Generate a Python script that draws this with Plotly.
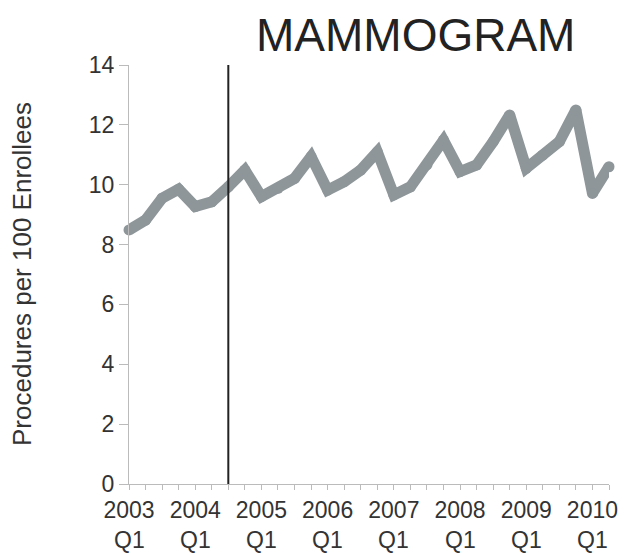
import plotly.graph_objects as go

quarters = [f"{y} Q{q}" for y in range(2003, 2011) for q in range(1, 5)][:30]
values = [8.49, 8.82, 9.55, 9.85, 9.27, 9.43, 9.93, 10.49, 9.60, 9.88,
          10.21, 10.94, 9.82, 10.10, 10.49, 11.10, 9.66, 9.93, 10.66, 11.49,
          10.44, 10.66, 11.44, 12.33, 10.55, 10.99, 11.44, 12.50, 9.71, 10.60]
year_labels = [q.split()[0] if q.endswith("Q1") else "" for q in quarters]
y_ticks = [0, 2, 4, 6, 8, 10, 12, 14]
marker_quarter = "2004 Q3"
title_text = "MAMMOGRAM"
y_title = "Procedures per 100 Enrollees"

idx = list(range(len(quarters)))
mi = quarters.index(marker_quarter)

# page body has an 8px margin; size figure to fit the window
OFF = 8
W, H = 637 - OFF, 553 - OFF
L, R, T, B = 129 - OFF, 28, 65 - OFF, 69
pw, ph = W - L - R, H - T - B

def px_x(x):
    return (x - OFF - L) / pw

def px_y(y):
    return 1 - (y - OFF - T) / ph

font = "Liberation Sans, Arial, sans-serif"

fig = go.Figure()
fig.add_trace(go.Scatter(
    x=idx, y=values, mode="lines+markers",
    line=dict(color="#8E969A", width=11),
    marker=dict(color="#8E969A", size=11, line=dict(width=0)),
    cliponaxis=False, hoverinfo="skip", showlegend=False,
))
fig.add_shape(type="line", xref="x", yref="paper", x0=mi, x1=mi, y0=0, y1=1,
              line=dict(color="#222222", width=2))

annotations = [
    dict(text=title_text, x=px_x(415), y=px_y(OFF), yshift=0,
         xref="paper", yref="paper", xanchor="center", yanchor="top",
         showarrow=False, borderpad=0, font=dict(size=46, color="#222222", family=font)),
    dict(text=y_title, x=px_x(22), y=px_y(274),
         xref="paper", yref="paper", xanchor="center", yanchor="middle",
         textangle=-90, showarrow=False,
         font=dict(size=26, color="#333333", family=font)),
]
for i, q in enumerate(quarters):
    if q.endswith("Q1"):
        annotations.append(dict(text=q.split()[1], x=i, y=px_y(540), xref="x", yref="paper",
                                xanchor="center", yanchor="middle", showarrow=False,
                                font=dict(size=23, color="#333333", family=font)))

fig.update_layout(
    width=W, height=H,
    margin=dict(l=L, r=R, t=T, b=B),
    plot_bgcolor="white", paper_bgcolor="white",
    font=dict(family=font, color="#333333"),
    annotations=annotations,
)
fig.update_xaxes(
    range=[0, len(quarters) - 1], tickvals=idx, ticktext=year_labels,
    ticks="outside", ticklen=5, tickcolor="#BBBBBB", tickwidth=1,
    showline=True, linecolor="#BBBBBB", linewidth=1, showgrid=False, zeroline=False,
    tickfont=dict(size=23, color="#333333"), tickangle=0, automargin=False,
)
fig.update_yaxes(
    range=[0, 14], tickvals=y_ticks,
    ticks="outside", ticklen=9, tickcolor="#BBBBBB", tickwidth=1,
    showline=True, linecolor="#BBBBBB", linewidth=1, showgrid=False, zeroline=False,
    tickfont=dict(size=23, color="#333333"), automargin=False,
)
fig.write_html("out.html")
